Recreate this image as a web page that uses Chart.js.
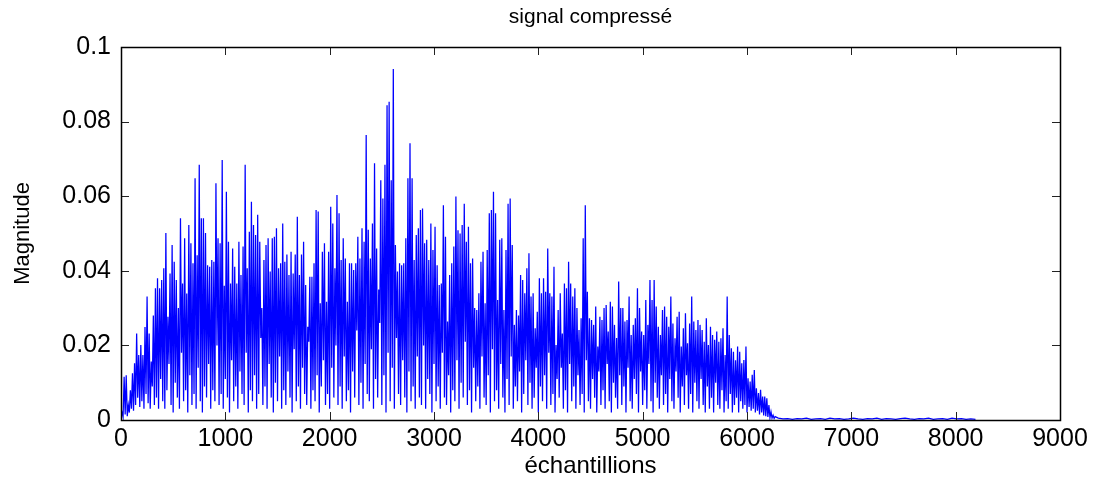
<!DOCTYPE html>
<html>
<head>
<meta charset="utf-8">
<script src="https://cdn.jsdelivr.net/npm/chart.js@4.4.1/dist/chart.umd.min.js"></script>
<style>
  html, body { margin: 0; padding: 0; background: #ffffff; }
  #wrap { width: 1096px; height: 484px; }
</style>
</head>
<body>
<div id="wrap"><canvas id="c" width="1096" height="484"></canvas></div>
<script>
// ---- labels ----
const titleText = 'signal compressé';
const xAxisLabel = 'échantillions';
const yAxisLabel = 'Magnitude';
const xTickValues = [0, 1000, 2000, 3000, 4000, 5000, 6000, 7000, 8000, 9000];
const xTickLabels = ['0', '1000', '2000', '3000', '4000', '5000', '6000', '7000', '8000', '9000'];
const yTickValues = [0, 0.02, 0.04, 0.06, 0.08, 0.1];
const yTickLabels = ['0', '0.02', '0.04', '0.06', '0.08', '0.1'];

// ---- signal: spike maxima and the dips between them, one pair every 20 samples ----
const sampleStep = 20;
const peaks = [
  0.0020, 0.0116, 0.0120, 0.0040, 0.0080, 0.0125, 0.0152, 0.0232, 0.0174, 0.0201,
  0.0174, 0.0249, 0.0331, 0.0232, 0.0157, 0.0280, 0.0353, 0.0380, 0.0353, 0.0375,
  0.0407, 0.0501, 0.0277, 0.0393, 0.0469, 0.0424, 0.0375, 0.0300, 0.0541, 0.0366,
  0.0487, 0.0339, 0.0523, 0.0474, 0.0420, 0.0648, 0.0442, 0.0684, 0.0541, 0.0541,
  0.0501, 0.0415, 0.0411, 0.0429, 0.0424, 0.0635, 0.0487, 0.0474, 0.0697, 0.0360,
  0.0612, 0.0478,
  0.0366, 0.0460, 0.0411, 0.0366, 0.0478, 0.0389, 0.0465, 0.0684, 0.0407, 0.0505,
  0.0585, 0.0523, 0.0496, 0.0550, 0.0478, 0.0300, 0.0429, 0.0469, 0.0487, 0.0398,
  0.0487, 0.0491, 0.0514, 0.0407, 0.0420, 0.0527, 0.0424, 0.0444, 0.0389, 0.0451,
  0.0393, 0.0444, 0.0545, 0.0389, 0.0444, 0.0478, 0.0362, 0.0250, 0.0384, 0.0384,
  0.0420, 0.0563, 0.0559, 0.0313, 0.0451, 0.0474, 0.0317, 0.0451, 0.0572, 0.0527,
  0.0407, 0.0603, 0.0554,
  0.0429, 0.0487, 0.0433, 0.0317, 0.0420, 0.0420, 0.0402, 0.0420, 0.0491, 0.0433,
  0.0514, 0.0478, 0.0764, 0.0510, 0.0433, 0.0527, 0.0688, 0.0460, 0.0350, 0.0643,
  0.0594, 0.0684, 0.0844, 0.0853, 0.0643, 0.0941, 0.0469, 0.0398, 0.0420, 0.0415,
  0.0420, 0.0487, 0.0648, 0.0742, 0.0648, 0.0429, 0.0496, 0.0514, 0.0563, 0.0567,
  0.0474, 0.0483, 0.0429, 0.0527, 0.0456, 0.0518, 0.0415, 0.0362, 0.0366, 0.0576,
  0.0491, 0.0264, 0.0389,
  0.0420, 0.0465, 0.0599, 0.0509, 0.0500, 0.0523, 0.0580, 0.0478, 0.0518, 0.0420,
  0.0433, 0.0300, 0.0295, 0.0340, 0.0424, 0.0451, 0.0313, 0.0456, 0.0554, 0.0563,
  0.0612, 0.0554, 0.0322, 0.0483, 0.0487, 0.0295, 0.0456, 0.0580, 0.0594, 0.0469,
  0.0255, 0.0295, 0.0280, 0.0389, 0.0375, 0.0340, 0.0407, 0.0447, 0.0331, 0.0340,
  0.0246, 0.0290, 0.0380, 0.0340, 0.0380, 0.0344, 0.0460, 0.0340, 0.0331, 0.0411,
  0.0201, 0.0295, 0.0340,
  0.0232, 0.0366, 0.0353, 0.0424, 0.0366, 0.0331, 0.0353, 0.0300, 0.0241, 0.0273,
  0.0487, 0.0576, 0.0344, 0.0273, 0.0268, 0.0255, 0.0304, 0.0197, 0.0277, 0.0268,
  0.0300, 0.0308, 0.0237, 0.0317, 0.0304, 0.0255, 0.0220, 0.0371, 0.0300, 0.0300,
  0.0264, 0.0268, 0.0331, 0.0228, 0.0255, 0.0273, 0.0353, 0.0300, 0.0237, 0.0228,
  0.0322, 0.0255, 0.0375, 0.0322, 0.0375, 0.0304, 0.0250, 0.0228, 0.0295, 0.0304,
  0.0277, 0.0250,
  0.0331, 0.0259, 0.0219, 0.0277, 0.0290, 0.0197, 0.0246, 0.0286, 0.0206, 0.0259,
  0.0331, 0.0264, 0.0241, 0.0268, 0.0255, 0.0241, 0.0210, 0.0273, 0.0201, 0.0250,
  0.0228, 0.0215, 0.0237, 0.0210, 0.0219, 0.0246, 0.0174, 0.0331, 0.0228, 0.0192,
  0.0183, 0.0160, 0.0197, 0.0183, 0.0152, 0.0161, 0.0197, 0.0112, 0.0103, 0.0121,
  0.0134, 0.0085, 0.0072, 0.0081, 0.0063, 0.0063, 0.0058, 0.0040, 0.0022, 0.0013,
  0.0009
];
const troughs = [
  0.0012, 0.0008, 0.0015, 0.0010, 0.0020, 0.0030, 0.0025, 0.0040, 0.0060, 0.0035,
  0.0050, 0.0030, 0.0070, 0.0045, 0.0030, 0.0090, 0.0040, 0.0060, 0.0030, 0.0110,
  0.0050, 0.0030, 0.0080, 0.0150, 0.0040, 0.0020, 0.0100, 0.0060, 0.0030, 0.0180,
  0.0050, 0.0080, 0.0020, 0.0120, 0.0040, 0.0070, 0.0030, 0.0140, 0.0050, 0.0020,
  0.0090, 0.0060, 0.0150, 0.0030, 0.0080, 0.0050, 0.0200, 0.0040, 0.0070, 0.0030,
  0.0110, 0.0060, 0.0020, 0.0160, 0.0050, 0.0090, 0.0030, 0.0130, 0.0070, 0.0040,
  0.0180, 0.0020, 0.0080, 0.0050, 0.0120, 0.0030, 0.0070, 0.0220, 0.0040, 0.0090,
  0.0030, 0.0150, 0.0060, 0.0020, 0.0100, 0.0050, 0.0170, 0.0030, 0.0080, 0.0040,
  0.0130, 0.0060, 0.0020, 0.0190, 0.0050, 0.0090, 0.0030, 0.0140, 0.0070, 0.0040,
  0.0210, 0.0030, 0.0080, 0.0050, 0.0120, 0.0020, 0.0090, 0.0160, 0.0040, 0.0070,
  0.0030, 0.0140, 0.0060, 0.0200, 0.0040, 0.0090, 0.0030, 0.0170, 0.0050, 0.0080,
  0.0020, 0.0130, 0.0060, 0.0240, 0.0040, 0.0100, 0.0030, 0.0150, 0.0070, 0.0050,
  0.0190, 0.0030, 0.0110, 0.0060, 0.0260, 0.0040, 0.0120, 0.0020, 0.0180, 0.0050,
  0.0140, 0.0030, 0.0220, 0.0070, 0.0040, 0.0160, 0.0060, 0.0020, 0.0130, 0.0050,
  0.0090, 0.0030, 0.0170, 0.0060, 0.0040, 0.0200, 0.0030, 0.0110, 0.0070, 0.0020,
  0.0150, 0.0050, 0.0090, 0.0030, 0.0180, 0.0060, 0.0040, 0.0120, 0.0020, 0.0080,
  0.0050, 0.0160, 0.0030, 0.0100, 0.0060, 0.0210, 0.0040, 0.0080, 0.0020, 0.0140,
  0.0050, 0.0090, 0.0030, 0.0170, 0.0060, 0.0040, 0.0120, 0.0020, 0.0190, 0.0050,
  0.0080, 0.0030, 0.0150, 0.0060, 0.0020, 0.0110, 0.0040, 0.0170, 0.0030, 0.0090,
  0.0050, 0.0130, 0.0020, 0.0070, 0.0160, 0.0040, 0.0100, 0.0030, 0.0060, 0.0140,
  0.0020, 0.0090, 0.0050, 0.0120, 0.0030, 0.0180, 0.0040, 0.0070, 0.0020, 0.0110,
  0.0060, 0.0140, 0.0030, 0.0080, 0.0020, 0.0150, 0.0050, 0.0090, 0.0030, 0.0120,
  0.0040, 0.0070, 0.0020, 0.0160, 0.0050, 0.0030, 0.0110, 0.0060, 0.0020, 0.0130,
  0.0040, 0.0080, 0.0030, 0.0150, 0.0050, 0.0020, 0.0100, 0.0060, 0.0030, 0.0120,
  0.0040, 0.0090, 0.0020, 0.0140, 0.0050, 0.0030, 0.0110, 0.0070, 0.0020, 0.0130,
  0.0040, 0.0080, 0.0030, 0.0150, 0.0050, 0.0020, 0.0100, 0.0060, 0.0030, 0.0120,
  0.0040, 0.0070, 0.0020, 0.0110, 0.0050, 0.0030, 0.0130, 0.0060, 0.0020, 0.0090,
  0.0040, 0.0120, 0.0030, 0.0070, 0.0020, 0.0100, 0.0050, 0.0030, 0.0110, 0.0040,
  0.0020, 0.0090, 0.0030, 0.0060, 0.0020, 0.0100, 0.0040, 0.0030, 0.0080, 0.0020,
  0.0050, 0.0030, 0.0070, 0.0020, 0.0040, 0.0060, 0.0020, 0.0050, 0.0030, 0.0040,
  0.0020, 0.0035, 0.0025, 0.0030, 0.0020, 0.0025, 0.0015, 0.0020, 0.0012, 0.0010,
  0.0008, 0.0006, 0.0005, 0.0004
];
// near-zero residue after the cut-off, one reading every 45 samples
const tailStart = 6300;
const tailStep = 45;
const tail = [
  0.0005, 0.0003, 0.0004, 0.0002, 0.0004, 0.0003, 0.0005, 0.0002, 0.0003, 0.0004,
  0.0002, 0.0005, 0.0003, 0.0004, 0.0002, 0.0003, 0.0005, 0.0003, 0.0002, 0.0004,
  0.0003, 0.0005, 0.0002, 0.0004, 0.0003, 0.0002, 0.0004, 0.0005, 0.0003, 0.0002,
  0.0004, 0.0003, 0.0005, 0.0002, 0.0003, 0.0004, 0.0002, 0.0005, 0.0003, 0.0004,
  0.0002, 0.0003, 0.0002
];

// ---- build the point list ----
const points = [];
for (let i = 0; i < peaks.length; i++) {
  points.push({ x: i * sampleStep, y: troughs[i] });
  points.push({ x: i * sampleStep + sampleStep / 2, y: peaks[i] });
}
for (let j = 0; j < tail.length; j++) {
  points.push({ x: tailStart + j * tailStep, y: tail[j] });
}

const family = '"Liberation Sans", Arial, Helvetica, sans-serif';
const tickSize = 25;
const titleSize = 21;
const xTitleSize = 24;
const yTitleSize = 22;

// inward ticks on all four sides and the closed axes box
const boxTicks = {
  id: 'boxTicks',
  afterDatasetsDraw(chart) {
    const { ctx, chartArea: a, scales } = chart;
    const len = 8;
    ctx.save();
    ctx.lineWidth = 1;
    ctx.strokeStyle = '#222';
    ctx.beginPath();
    xTickValues.forEach(v => {
      const px = Math.round(scales.x.getPixelForValue(v)) + 0.5;
      ctx.moveTo(px, a.bottom); ctx.lineTo(px, a.bottom - len);
      ctx.moveTo(px, a.top); ctx.lineTo(px, a.top + len);
    });
    yTickValues.forEach(v => {
      const py = Math.round(scales.y.getPixelForValue(v)) + 0.5;
      ctx.moveTo(a.left, py); ctx.lineTo(a.left + len, py);
      ctx.moveTo(a.right, py); ctx.lineTo(a.right - len, py);
    });
    ctx.stroke();
    ctx.strokeStyle = '#000';
    ctx.lineWidth = 1.5;
    ctx.strokeRect(Math.round(a.left) + 0.5, Math.round(a.top) + 0.5,
                   Math.round(a.right - a.left), Math.round(a.bottom - a.top));
    ctx.restore();
  }
};

new Chart(document.getElementById('c'), {
  type: 'line',
  data: {
    datasets: [{
      data: points,
      borderColor: '#0000ff',
      borderWidth: 1.25,
      pointRadius: 0,
      tension: 0,
      fill: false
    }]
  },
  options: {
    responsive: false,
    animation: false,
    devicePixelRatio: 1,
    layout: { padding: { left: 0, right: 36, top: 0, bottom: 0 } },
    plugins: {
      legend: { display: false },
      tooltip: { enabled: false },
      title: {
        display: true,
        fullSize: false,
        text: titleText,
        color: '#000',
        font: { family: family, size: titleSize, weight: 'normal', lineHeight: 1.2 },
        padding: { top: 5, bottom: 47 - 5 - titleSize * 1.2 }
      }
    },
    scales: {
      x: {
        type: 'linear',
        min: 0,
        max: 9000,
        afterBuildTicks: s => { s.ticks = xTickValues.map(v => ({ value: v })); },
        afterFit: s => { s.height = 64; },
        ticks: {
          color: '#000',
          autoSkip: false,
          maxRotation: 0,
          padding: 4,
          font: { family: family, size: tickSize, lineHeight: 1.2 },
          callback: v => xTickLabels[xTickValues.indexOf(v)]
        },
        grid: { display: false, drawTicks: false },
        border: { display: false },
        title: {
          display: true,
          text: xAxisLabel,
          color: '#000',
          font: { family: family, size: xTitleSize, lineHeight: 1.2 },
          padding: { top: 0, bottom: 3 }
        }
      },
      y: {
        type: 'linear',
        min: 0,
        max: 0.1,
        afterBuildTicks: s => { s.ticks = yTickValues.map(v => ({ value: v })); },
        afterFit: s => { s.width = 121; },
        ticks: {
          color: '#000',
          autoSkip: false,
          padding: 10,
          font: { family: family, size: tickSize, lineHeight: 1.2 },
          callback: v => yTickLabels[yTickValues.indexOf(v)]
        },
        grid: { display: false, drawTicks: false },
        border: { display: false },
        title: {
          display: true,
          text: yAxisLabel,
          color: '#000',
          font: { family: family, size: yTitleSize, lineHeight: 1.2 },
          padding: { top: 10, bottom: 0 }
        }
      }
    }
  },
  plugins: [boxTicks]
});
</script>
</body>
</html>
